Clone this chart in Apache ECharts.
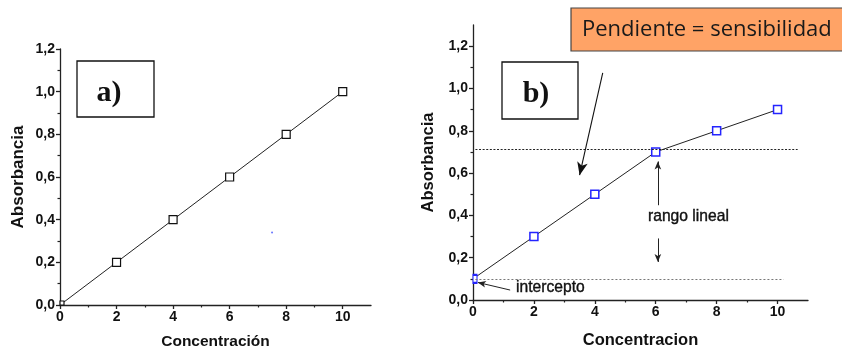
<!DOCTYPE html>
<html><head><meta charset="utf-8">
<script src="https://cdn.jsdelivr.net/npm/echarts@6/dist/echarts.min.js"></script>
<style>html,body{margin:0;padding:0;background:#fff}#c{width:842px;height:347px}</style>
</head><body><div id="c"></div>
<script>
// ---- data ----
const concA = [0, 2, 4, 6, 8, 10];
const absA = [0, 0.2, 0.4, 0.6, 0.8, 1.0];
const concB = [0, 2, 4, 6, 8, 10];
const absB = [0.1, 0.3, 0.5, 0.7, 0.8, 0.9];
const strayA = [[7.5, 0.34]];
const xMajor = [0, 2, 4, 6, 8, 10];
const xMinor = [1, 3, 5, 7, 9];
const yMajor = [0, 0.2, 0.4, 0.6, 0.8, 1.0, 1.2];
const yMinor = [0.1, 0.3, 0.5, 0.7, 0.9, 1.1];
const titleX_A = 'Concentración';
const titleX_B = 'Concentracion';
const titleY = 'Absorbancia';

const FONT = 'Liberation Sans, Arial, sans-serif';
const AX = '#222';
const fmtY = v => v.toFixed(1).replace('.', ',');
const fmtX = v => String(v);

function mainAxis(grid, max, major, fmt, name, gap, pos, margin, nameSize) {
  return {
    type: 'value', gridIndex: grid, min: 0, max: max, position: pos, offset: 0,
    axisLine: { show: true, onZero: false, lineStyle: { color: AX, width: 1.3 } },
    splitLine: { show: false },
    axisTick: { show: true, customValues: major, length: 4, lineStyle: { color: AX, width: 1.3 } },
    axisLabel: { customValues: major, formatter: fmt, fontFamily: FONT, fontWeight: 'bold', fontSize: 14, color: '#111', margin: margin },
    name: name, nameLocation: 'middle', nameGap: gap,
    nameTextStyle: { fontFamily: FONT, fontWeight: 'bold', fontSize: nameSize, color: '#111' }
  };
}
function minorAxis(grid, max, minor, pos) {
  return {
    type: 'value', gridIndex: grid, min: 0, max: max, position: pos, offset: 0,
    axisLine: { show: false, onZero: false },
    splitLine: { show: false },
    axisTick: { show: true, customValues: minor, length: 2.5, lineStyle: { color: AX, width: 1.2 } },
    axisLabel: { show: false }
  };
}

const chart = echarts.init(document.getElementById('c'), null, { renderer: 'canvas' });
const pair = (xs, ys) => xs.map((x, i) => [x, ys[i]]);
const arrowEnd = (size) => ({ symbol: 'arrow', symbolSize: size });

chart.setOption({
  animation: false,
  backgroundColor: '#fff',
  grid: [
    { left: 60, top: 49, width: 311, height: 256, containLabel: false, outerBoundsMode: 'none' },
    { left: 473, top: 25, width: 335, height: 275, containLabel: false, outerBoundsMode: 'none' }
  ],
  xAxis: [
    mainAxis(0, 11, xMajor, fmtX, titleX_A, 29, 'bottom', 5, 15.5),
    minorAxis(0, 11, xMinor, 'bottom'),
    mainAxis(1, 11, xMajor, fmtX, titleX_B, 32, 'bottom', 5, 16.5),
    minorAxis(1, 11, xMinor, 'bottom')
  ],
  yAxis: [
    mainAxis(0, 1.2, yMajor, fmtY, titleY, 33, 'left', 5, 17),
    minorAxis(0, 1.2, yMinor, 'left'),
    mainAxis(1, 1.3, yMajor, fmtY, titleY, 36, 'left', 5, 16.5),
    minorAxis(1, 1.3, yMinor, 'left')
  ],
  series: [
    {
      type: 'line', xAxisIndex: 0, yAxisIndex: 0, silent: true,
      data: pair(concA, absA).map((p, i) => i === 0 ? { value: p, symbolSize: 4, symbolOffset: [2, -2] } : p),
      symbol: 'rect', symbolSize: 8,
      itemStyle: { color: '#fff', borderColor: '#111', borderWidth: 1.2 },
      lineStyle: { color: '#222', width: 1 }
    },
    {
      type: 'scatter', xAxisIndex: 0, yAxisIndex: 0, silent: true,
      data: strayA, symbol: 'circle', symbolSize: 2,
      itemStyle: { color: '#4455ff' }
    },
    {
      type: 'line', xAxisIndex: 2, yAxisIndex: 2, silent: true,
      data: pair(concB, absB).map((p, i) => i === 0 ? { value: p, symbolSize: [4, 8], symbolOffset: [2, 0] } : p),
      symbol: 'rect', symbolSize: 8,
      itemStyle: { color: '#fff', borderColor: '#2424ff', borderWidth: 1.5 },
      lineStyle: { color: '#222', width: 1 },
      markLine: {
        silent: true, animation: false,
        label: { show: false },
        symbol: ['none', 'none'],
        data: [
          [{ coord: [0.08, 0.715], lineStyle: { color: '#222', type: [2, 1.6], width: 1 } }, { coord: [10.66, 0.715] }],
          [{ coord: [0.08, 0.1], lineStyle: { color: '#777', type: [2, 2], width: 1 } }, { coord: [10.2, 0.1] }],
          [{ coord: [4.26, 1.074], lineStyle: { color: '#111', type: 'solid', width: 1.1 } }, Object.assign({ coord: [3.5, 0.59] }, arrowEnd([8, 13]))],
          [{ coord: [6.07, 0.448], lineStyle: { color: '#222', type: 'solid', width: 1 } }, Object.assign({ coord: [6.07, 0.655] }, arrowEnd([5, 8]))],
          [{ coord: [6.07, 0.291], lineStyle: { color: '#222', type: 'solid', width: 1 } }, Object.assign({ coord: [6.07, 0.18] }, arrowEnd([5, 8]))],
          [{ coord: [1.22, 0.047], lineStyle: { color: '#222', type: 'solid', width: 1 } }, Object.assign({ coord: [0.16, 0.083] }, arrowEnd([5, 8]))]
        ]
      }
    }
  ],
  graphic: [
    { type: 'rect', shape: { x: 77, y: 61, width: 77, height: 56 }, style: { fill: '#fff', stroke: '#111', lineWidth: 1.3 }, z: 10 },
    { type: 'text', x: 109, y: 93, style: { text: 'a)', font: 'bold 30px "Liberation Serif", serif', fill: '#111', textAlign: 'center', textVerticalAlign: 'middle' }, z: 11 },
    { type: 'rect', shape: { x: 502, y: 62, width: 76, height: 57 }, style: { fill: '#fff', stroke: '#111', lineWidth: 1.3 }, z: 10 },
    { type: 'text', x: 536, y: 94, style: { text: 'b)', font: 'bold 30px "Liberation Serif", serif', fill: '#111', textAlign: 'center', textVerticalAlign: 'middle' }, z: 11 },
    { type: 'rect', shape: { x: 571, y: 8, width: 290, height: 43 }, style: { fill: '#FFA366', stroke: '#444', lineWidth: 1.2 }, z: 10 },
    { type: 'text', x: 582, y: 30, style: { text: 'Pendiente = sensibilidad', font: '22px "Open Sans", sans-serif', fill: '#1a1a1a', textAlign: 'left', textVerticalAlign: 'middle' }, z: 11 },
    { type: 'text', x: 648, y: 216, scaleX: 0.92, style: { text: 'rango lineal', font: '17px "Liberation Sans", Arial, sans-serif', fill: '#111', stroke: '#111', lineWidth: 0.4, textAlign: 'left', textVerticalAlign: 'middle' }, z: 11 },
    { type: 'text', x: 516, y: 287, scaleX: 0.92, style: { text: 'intercepto', font: '17px "Liberation Sans", Arial, sans-serif', fill: '#111', stroke: '#111', lineWidth: 0.4, textAlign: 'left', textVerticalAlign: 'middle' }, z: 11 }
  ]
});
</script>
</body></html>
